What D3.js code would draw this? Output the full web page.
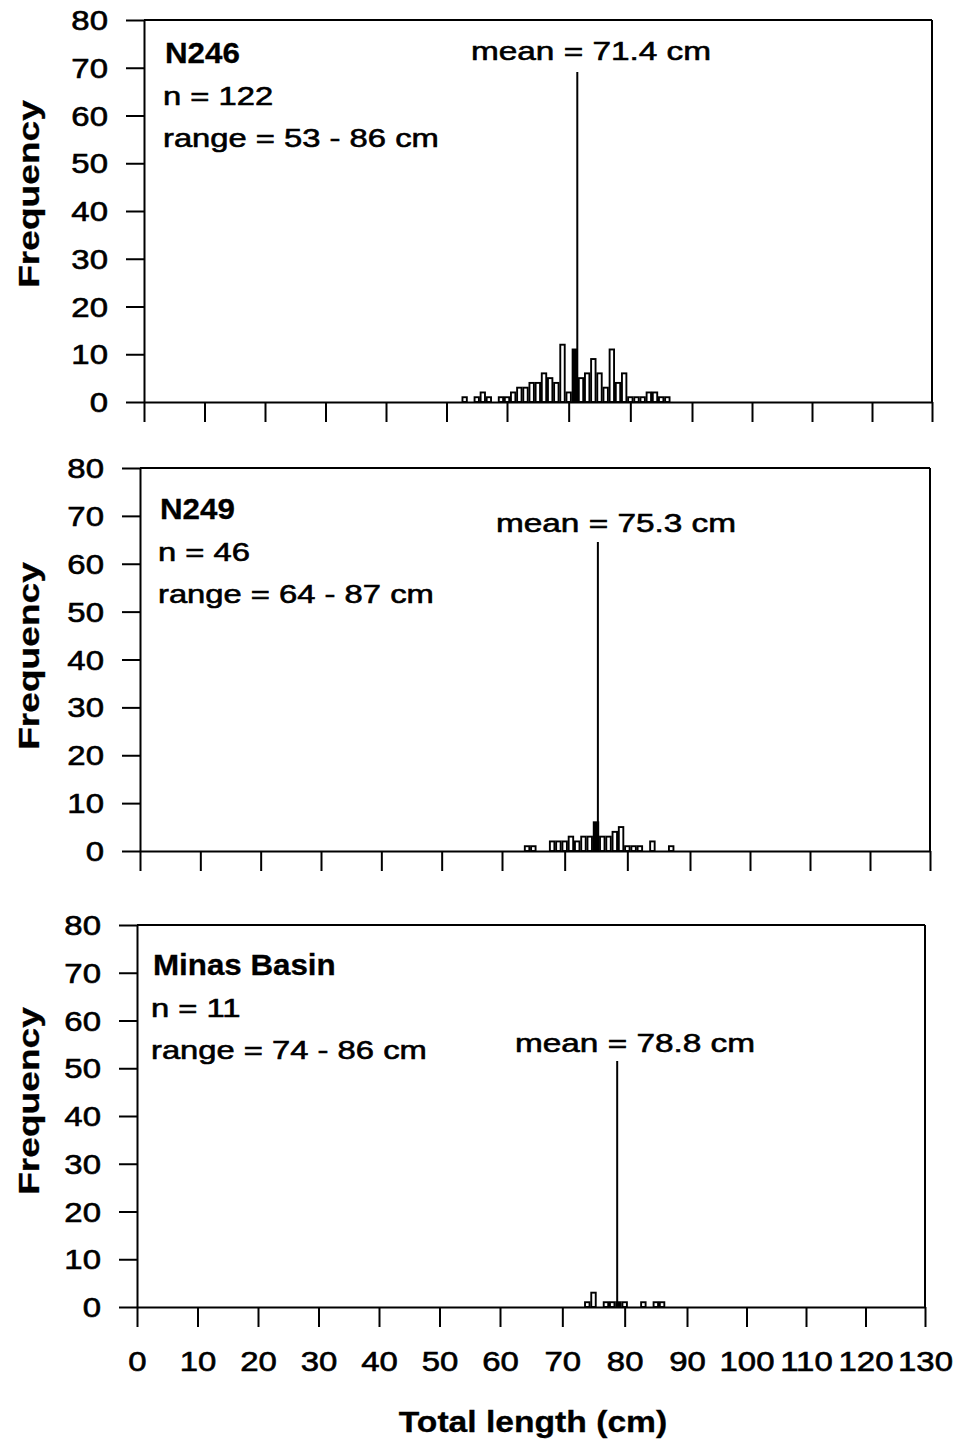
<!DOCTYPE html>
<html>
<head>
<meta charset="utf-8">
<script src="https://cdn.jsdelivr.net/npm/d3@7"></script>
<style>
  html, body { margin: 0; padding: 0; background: #fff; }
  svg { display: block; }
  text { font-family: "Liberation Sans", Arial, Helvetica, sans-serif; fill: #000; stroke: #000; stroke-width: 0.6px; }
</style>
</head>
<body>
<script>
// ---------------- data ----------------
const xTickValues = [0,10,20,30,40,50,60,70,80,90,100,110,120,130];
const yTickValues = [0,10,20,30,40,50,60,70,80];

// Panel 1: N246
const lengthsN246 = [53,55,56,57,59,60,61,62,63,64,65,66,67,68,69,70,71,72,73,74,75,76,77,78,79,80,81,82,83,84,85,86];
const countsN246  = [ 1, 1, 2, 1, 1, 1, 2, 3, 3, 4, 4, 6, 5, 4,12, 2,11, 5, 6, 9, 6, 3,11, 4, 6, 1, 1, 1, 2, 2, 1, 1];
// Panel 2: N249
const lengthsN249 = [64,65,68,69,70,71,72,73,74,75,76,77,78,79,80,81,82,84,87];
const countsN249  = [ 1, 1, 2, 2, 2, 3, 2, 3, 3, 6, 3, 3, 4, 5, 1, 1, 1, 2, 1];
// Panel 3: Minas Basin
const lengthsMinas = [74,75,77,78,79,80,83,85,86];
const countsMinas  = [ 1, 3, 1, 1, 1, 1, 1, 1, 1];

const panelNames = ["N246", "N249", "Minas Basin"];
const panelN = ["n = 122", "n = 46", "n = 11"];
const panelRanges = ["range = 53 - 86 cm", "range = 64 - 87 cm", "range = 74 - 86 cm"];
const panelMeans = [71.4, 75.3, 78.8];
const yAxisTitle = "Frequency";
const xAxisTitle = "Total length (cm)";

// ---------------- layout ----------------
const W = 957, H = 1442;
const layout = [
  { xr: [144, 507, 692, 932], top: 20,  base: 402,  nameX: 165, nameY: 63,  meanX: 591, meanY: 60,  lineTop: 72,   titleY: 194 },
  { xr: [140, 502, 690, 930], top: 468, base: 851,  nameX: 160, nameY: 519, meanX: 616, meanY: 532, lineTop: 542,  titleY: 656 },
  { xr: [137, 500, 687, 925], top: 925, base: 1307, nameX: 153, nameY: 975, meanX: 635, meanY: 1052, lineTop: 1061, titleY: 1101 }
];
const datasets = [
  { lengths: lengthsN246, counts: countsN246 },
  { lengths: lengthsN249, counts: countsN249 },
  { lengths: lengthsMinas, counts: countsMinas }
];

const svg = d3.select("body").append("svg").attr("width", W).attr("height", H);

const SX_NUM = 1.22;   // horizontal stretch of scanned text
const SX_TXT = 1.26;
const SX_BOLD = 1.08;

function stretchedText(g, x, y, str, opts) {
  return g.append("text")
    .attr("transform", `translate(${x},${y}) scale(${opts.sx},1)`)
    .attr("text-anchor", opts.anchor || "start")
    .style("font-size", opts.size + "px")
    .style("font-weight", opts.bold ? "bold" : "normal")
    .style("stroke-width", opts.bold ? "0.3px" : "0.6px")
    .text(str);
}

layout.forEach((L, i) => {
  const d = datasets[i].lengths.map((len, k) => ({ len, count: datasets[i].counts[k] }));
  const x = d3.scaleLinear().domain([0, 60, 90, 130]).range(L.xr);
  const y = d3.scaleLinear().domain([0, 80]).range([L.base, L.top]);
  const left = L.xr[0], right = L.xr[3];
  const g = svg.append("g");

  // frame: top and right borders
  g.append("line").attr("x1", left).attr("x2", right).attr("y1", y(80)).attr("y2", y(80))
    .attr("stroke", "#000").attr("stroke-width", 2);
  g.append("line").attr("x1", right).attr("x2", right).attr("y1", y(80)).attr("y2", y(0))
    .attr("stroke", "#000").attr("stroke-width", 2);

  // bars
  const meanBin = Math.round(panelMeans[i]);
  g.selectAll("rect.bar").data(d).join("rect")
    .attr("class", "bar")
    .attr("x", v => x(v.len - 0.36))
    .attr("width", v => x(v.len + 0.36) - x(v.len - 0.36))
    .attr("y", v => y(v.count))
    .attr("height", v => y(0) - y(v.count))
    .attr("fill", v => v.len === meanBin ? "#000" : "#fff")
    .attr("stroke", "#000").attr("stroke-width", 1.9);

  // x axis
  const xAxis = d3.axisBottom(x).tickValues(xTickValues).tickSize(20).tickSizeOuter(0)
    .tickFormat(i === 2 ? d3.format("d") : () => "");
  const gx = g.append("g").attr("transform", `translate(0,${y(0)})`).call(xAxis);
  gx.select(".domain").attr("stroke-width", 2.2);
  gx.selectAll(".tick line").attr("stroke-width", 2);
  gx.selectAll(".tick text")
    .attr("y", 0).attr("dy", 0)
    .attr("transform", `translate(0,64) scale(${SX_NUM},1)`)
    .style("font-size", "27px")
    .style("font-family", '"Liberation Sans", Arial, sans-serif')
    .style("stroke", "#000").style("stroke-width", "0.6px");

  // y axis
  const yAxis = d3.axisLeft(y).tickValues(yTickValues).tickSize(18).tickSizeOuter(0).tickPadding(0);
  const gy = g.append("g").attr("transform", `translate(${left},0)`).call(yAxis);
  gy.select(".domain").attr("stroke-width", 2);
  gy.selectAll(".tick line").attr("stroke-width", 2);
  gy.selectAll(".tick text")
    .attr("x", 0).attr("dy", 0).attr("y", 0)
    .attr("transform", `translate(-36,9.5) scale(${SX_NUM},1)`)
    .style("font-size", "27px")
    .style("font-family", '"Liberation Sans", Arial, sans-serif')
    .style("stroke", "#000").style("stroke-width", "0.6px");

  // y title
  g.append("text")
    .attr("transform", `translate(39,${L.titleY}) rotate(-90) scale(1.28,1)`)
    .attr("text-anchor", "middle")
    .style("font-size", "29px").style("font-weight", "bold").style("stroke-width", "0.3px")
    .text(yAxisTitle);

  // annotations
  stretchedText(g, L.nameX, L.nameY, panelNames[i], { sx: SX_BOLD, size: 29, bold: true });
  stretchedText(g, L.nameX - 2, L.nameY + 42, panelN[i], { sx: SX_TXT, size: 26 });
  stretchedText(g, L.nameX - 2, L.nameY + 84, panelRanges[i], { sx: SX_TXT, size: 26 });
  stretchedText(g, L.meanX, L.meanY, `mean = ${panelMeans[i]} cm`, { sx: SX_TXT, size: 26.5, anchor: "middle" });

  // mean line
  g.append("line")
    .attr("x1", x(panelMeans[i])).attr("x2", x(panelMeans[i]))
    .attr("y1", L.lineTop).attr("y2", y(0))
    .attr("stroke", "#000").attr("stroke-width", 2);
});

// x axis title
svg.append("text")
  .attr("transform", `translate(533,1432) scale(1.16,1)`)
  .attr("text-anchor", "middle")
  .style("font-size", "29px").style("font-weight", "bold").style("stroke-width", "0.3px")
  .text(xAxisTitle);
</script>
</body>
</html>
